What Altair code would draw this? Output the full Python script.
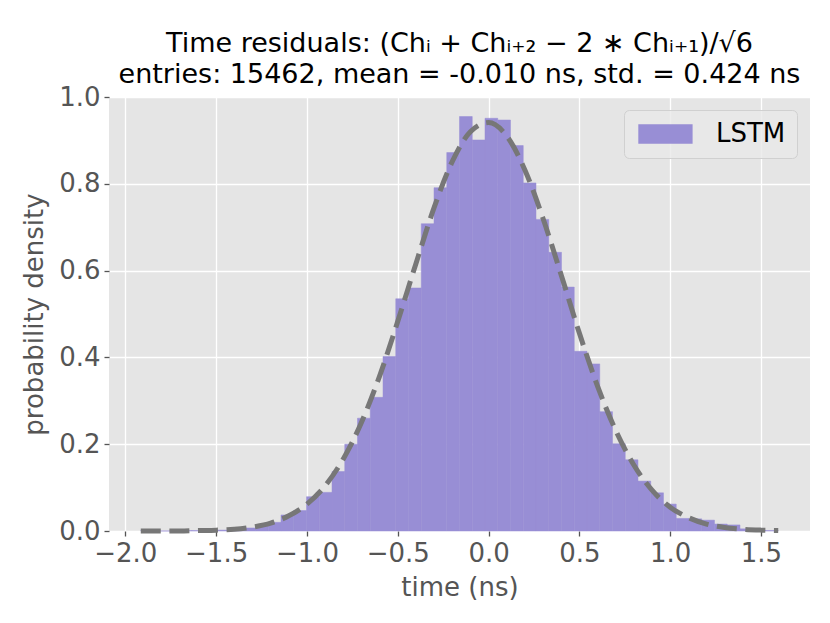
import altair as alt
import numpy as np
import pandas as pd

# ---- data ----
data_min = -1.915
data_max = 1.595
n_bins = 50
density = [
    0.001, 0.000, 0.000, 0.001, 0.001, 0.001, 0.002, 0.004, 0.007, 0.011,
    0.020, 0.037, 0.047, 0.079, 0.089, 0.137, 0.200, 0.260, 0.308, 0.402,
    0.535, 0.560, 0.708, 0.791, 0.872, 0.955, 0.901, 0.951, 0.947, 0.888,
    0.802, 0.718, 0.642, 0.562, 0.414, 0.385, 0.275, 0.201, 0.164, 0.115,
    0.088, 0.062, 0.029, 0.028, 0.025, 0.016, 0.014, 0.005, 0.002, 0.001,
]
fit_x = [-1.915, -1.8, -1.7, -1.6, -1.5, -1.4, -1.3, -1.2, -1.1, -1.0, -0.9,
         -0.8, -0.7, -0.6, -0.5, -0.4, -0.3, -0.2, -0.1, 0.0, 0.1, 0.2, 0.3,
         0.4, 0.5, 0.6, 0.7, 0.8, 0.9, 1.0, 1.1, 1.2, 1.3, 1.4, 1.5, 1.595]
fit_y = [0.000, 0.000, 0.000, 0.001, 0.002, 0.004, 0.009, 0.018, 0.035, 0.062,
         0.104, 0.166, 0.250, 0.357, 0.483, 0.616, 0.745, 0.851, 0.920, 0.941,
         0.910, 0.832, 0.720, 0.590, 0.456, 0.334, 0.232, 0.152, 0.094, 0.055,
         0.031, 0.016, 0.008, 0.004, 0.002, 0.001]
x_ticks = [-2.0, -1.5, -1.0, -0.5, 0.0, 0.5, 1.0, 1.5]
y_ticks = [0.0, 0.2, 0.4, 0.6, 0.8, 1.0]
series_name = "LSTM"
title_lines = [
    "Time residuals: (Chᵢ + Chᵢ₊₂ − 2 ∗ Chᵢ₊₁)/√6",
    "entries: 15462, mean = -0.010 ns, std. = 0.424 ns",
]

edges = np.linspace(data_min, data_max, n_bins + 1)
hist_df = pd.DataFrame({
    "bin_start": edges[:-1],
    "bin_end": edges[1:],
    "density": density,
    "series": [series_name] * n_bins,
})
fit_df = pd.DataFrame({"x": fit_x, "y": fit_y})

FONT = "DejaVu Sans"
BAR = "#988ED5"
xscale = alt.Scale(domain=[-2.09, 1.77], nice=False, zero=False)
yscale = alt.Scale(domain=[0, 1.0], nice=False)

bars = alt.Chart(hist_df).mark_rect(opacity=1, stroke=BAR, strokeWidth=0.5).encode(
    x=alt.X("bin_start:Q", scale=xscale,
            axis=alt.Axis(values=x_ticks, format=".1f", title="time (ns)")),
    x2="bin_end:Q",
    y=alt.Y("density:Q", scale=yscale,
            axis=alt.Axis(values=y_ticks, format=".1f", title="probability density",
                          titlePadding=11)),
    y2=alt.datum(0),
    color=alt.Color(
        "series:N",
        scale=alt.Scale(domain=[series_name], range=[BAR]),
        legend=alt.Legend(
            title=None,
            orient="top-right",
            offset=13,
            padding=11,
            symbolType="M-1,-1H4.6V1H-1Z",
            symbolSize=376,
            symbolStrokeWidth=0,
            symbolOpacity=1,
            labelOffset=55,
            labelFontSize=26,
            labelFont=FONT,
            labelColor="black",
            fillColor="rgba(232,232,232,0.8)",
            strokeColor="#d0d0d0",
            cornerRadius=5,
        ),
    ),
)

fit = alt.Chart(fit_df).mark_line(
    color="#777777", strokeWidth=5, strokeDash=[20, 8.6], interpolate="monotone"
).encode(
    x=alt.X("x:Q", scale=xscale),
    y=alt.Y("y:Q", scale=yscale),
)

chart = alt.layer(bars, fit).properties(
    width=701,
    height=434,
    background="white",
    title=alt.TitleParams(
        text=title_lines,
        fontSize=27,
        font=FONT,
        fontWeight="normal",
        color="black",
        anchor="middle",
        frame="group",
        lineHeight=31,
        offset=-5,
    ),
    autosize=alt.AutoSizeParams(type="none"),
    padding={"left": 101, "top": 89, "right": 12, "bottom": 84},
).configure_view(
    fill="#E5E5E5", stroke=None
).configure_axis(
    grid=True,
    gridColor="white",
    gridWidth=1.3,
    domain=False,
    tickColor="#555555",
    tickSize=5,
    tickWidth=1.3,
    labelColor="#555555",
    labelFontSize=26,
    labelFont=FONT,
    labelPadding=4,
    titleColor="#555555",
    titleFontSize=26,
    titleFont=FONT,
    titleFontWeight="normal",
    titlePadding=8,
)

chart.save("out.html", embed_options={"renderer": "svg", "actions": False})
